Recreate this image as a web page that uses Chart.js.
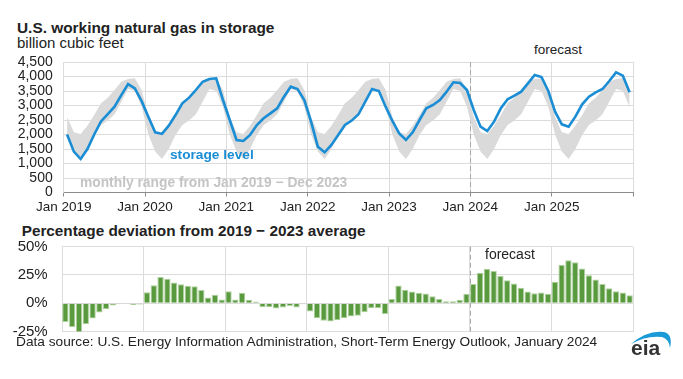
<!DOCTYPE html>
<html><head><meta charset="utf-8">
<script src="https://cdn.jsdelivr.net/npm/chart.js@4.4.1/dist/chart.umd.min.js"></script>
<style>
html,body{margin:0;padding:0;background:#fff;}
#wrap{position:relative;width:683px;height:379px;overflow:hidden;font-family:"Liberation Sans",Arial,sans-serif;color:#222;background:#fff;}
.t{position:absolute;white-space:nowrap;line-height:1;}
canvas{position:absolute;left:0;}
</style></head><body>
<div id="wrap">
<div class="t" style="left:17px;top:20px;font-size:15.4px;font-weight:bold;">U.S. working natural gas in storage</div>
<div class="t" style="left:17px;top:35px;font-size:15px;">billion cubic feet</div>
<div class="t" style="left:534px;top:43px;font-size:13.5px;">forecast</div>
<canvas id="c1" width="683" height="170" style="top:50px"></canvas>
<div class="t" style="left:170px;top:148px;font-size:13.7px;font-weight:bold;color:#1a8dd4;">storage level</div>
<div class="t" style="left:80px;top:176px;font-size:13.8px;font-weight:bold;color:#c4c4c4;">monthly range from Jan 2019 − Dec 2023</div>
<div class="t" style="left:21.7px;top:222.5px;font-size:15.3px;font-weight:bold;">Percentage deviation from 2019 − 2023 average</div>
<canvas id="c2" width="683" height="100" style="top:236px"></canvas>
<div class="t" style="left:485px;top:247.4px;font-size:14px;">forecast</div>
<div class="t" style="left:16px;top:335.4px;font-size:13.7px;">Data source: U.S. Energy Information Administration, Short-Term Energy Outlook, January 2024</div>
<svg style="position:absolute;left:625px;top:325px" width="55" height="40">
  <path d="M6,19 Q22,5 39,7 Q48,9 45,23 Q44,14 37,12 Q22,10 6,19 Z" fill="#1a9ad6"/>
</svg>
<div class="t" style="left:631px;top:337px;font-size:21px;font-weight:bold;color:#333;">eia</div>
</div>
<script>
// ---- data (end-of-month working gas, billion cubic feet), Jan 2019 - Dec 2025 ----
const storage2019 = [2000,1410,1155,1500,2000,2450,2700,2960,3360,3740,3590,3150];
const storage2020 = [2600,2075,2020,2305,2670,3075,3270,3535,3820,3915,3937,3190];
const storage2021 = [2500,1811,1777,1984,2328,2558,2730,2900,3305,3650,3570,3190];
const storage2022 = [2443,1581,1386,1639,1984,2328,2480,2696,3132,3569,3500,2960];
const storage2023 = [2466,2040,1811,2075,2500,2903,3018,3190,3477,3799,3776,3535];
const storage2024 = [2845,2271,2121,2443,2903,3213,3339,3477,3764,4052,3983,3500];
const storage2025 = [2788,2351,2271,2615,3040,3305,3454,3569,3845,4143,4029,3454];
// monthly range Jan 2019 - Dec 2023 (Jan..Dec)
const rangeLow  = [2000,1410,1155,1500,1984,2328,2480,2696,3132,3569,3500,2960];
const rangeHigh = [2600,2075,2020,2305,2670,3075,3270,3535,3820,3915,3937,3535];
// percentage deviation from 2019-2023 average
const dev2019 = [-16.5,-21,-26,-18.6,-13.6,-8.3,-5.3,-2,-0.9,-0.3,-1.5,-1.2];
const dev2020 = [9.7,16,23.3,21.6,18.3,16.8,15.4,15,11.8,5,7.4,3.2];
const dev2021 = [10.6,3.2,9.2,3,1.5,-3.5,-3.5,-4.7,-3.8,-2.4,-3.8,-0.9];
const dev2022 = [-7.4,-13.3,-15.4,-16.2,-15,-13.3,-11.8,-11,-8,-4.4,-4.4,-9.5];
const dev2023 = [3.8,15.7,12,10.4,9.2,8.6,6.2,3.8,1.8,1.8,3,8.3];
const dev2024 = [17,26.9,30.4,28.4,24,20.4,17.4,13.6,10.4,8.9,9.5,8.3];
const dev2025 = [18.9,34,38,36.3,30.7,24.8,21,17.1,13.3,10.6,9.5,7.1];
// tick labels
const yearTickLabels = ['Jan 2019','Jan 2020','Jan 2021','Jan 2022','Jan 2023','Jan 2024','Jan 2025',''];
const storageTickLabels = ['0','500','1,000','1,500','2,000','2,500','3,000','3,500','4,000','4,500'];
const pctTickLabels = ['-25%','0%','25%','50%'];
const forecastStartMonth = 60; // Jan 2024

const storage = [].concat(storage2019,storage2020,storage2021,storage2022,storage2023,storage2024,storage2025);
const deviation = [].concat(dev2019,dev2020,dev2021,dev2022,dev2023,dev2024,dev2025);
const storagePts = storage.map((v,i)=>({x:i+0.5,y:v}));
const lowPts = storage.map((v,i)=>({x:i+0.5,y:rangeLow[i%12]}));
const highPts = storage.map((v,i)=>({x:i+0.5,y:rangeHigh[i%12]}));
const devPts = deviation.map((v,i)=>({x:i+0.5,y:v}));

const FONT = '"Liberation Sans", Arial, sans-serif';
const GRID = '#dcdcdc';

const dashPlugin = {
  id:'dash',
  beforeDatasetsDraw(chart){
    const {ctx, chartArea:a, scales:{x}} = chart;
    const px = Math.round(x.getPixelForValue(forecastStartMonth)) + 0.5;
    ctx.save();
    ctx.strokeStyle = '#a8a8a8'; ctx.lineWidth = 1; ctx.setLineDash([5,3]);
    ctx.beginPath(); ctx.moveTo(px, a.top); ctx.lineTo(px, a.bottom); ctx.stroke();
    ctx.restore();
  }
};
const yearTicks = (s)=>{ s.ticks = yearTickLabels.map((_,i)=>({value:i*12})); };
const noPad = (s)=>{ s.paddingTop=0; s.paddingBottom=0; s.paddingLeft=0; s.paddingRight=0; };

new Chart(document.getElementById('c1'), {
  type:'line',
  data:{datasets:[
    {data:storagePts, borderColor:'#1a8dd4', borderWidth:2.6, pointRadius:0, tension:0, fill:false},
    {data:highPts, borderColor:'transparent', borderWidth:0, pointRadius:0, tension:0, backgroundColor:'#dadada', fill:'+1'},
    {data:lowPts, borderColor:'transparent', borderWidth:0, pointRadius:0, tension:0, fill:false}
  ]},
  options:{
    responsive:false, animation:false, events:[],
    layout:{padding:{top:12,right:50,left:0,bottom:0}},
    plugins:{legend:{display:false}, tooltip:{enabled:false}},
    scales:{
      x:{type:'linear', min:0, max:84, offset:false, afterBuildTicks:yearTicks,
         ticks:{callback:(v)=>yearTickLabels[Math.round(v/12)], font:{family:FONT,size:13.5}, color:'#222', padding:3, maxRotation:0, autoSkip:false},
         grid:{color:GRID, tickLength:4, tickColor:'#8c8c8c'},
         border:{color:'#8c8c8c'},
         afterFit(s){s.height=27.5; noPad(s);}},
      y:{min:0, max:4500,
         ticks:{stepSize:500, autoSkip:false, callback:(v)=>storageTickLabels[Math.round(v/500)], font:{family:FONT,size:14}, color:'#222', padding:11},
         grid:{color:GRID, drawTicks:false},
         border:{color:GRID},
         afterFit(s){s.width=63.7; noPad(s);}}
    }
  },
  plugins:[dashPlugin]
});

new Chart(document.getElementById('c2'), {
  type:'bar',
  data:{datasets:[
    {data:devPts, backgroundColor:'#589a3d', borderColor:'#aed19f', borderWidth:1, barPercentage:0.93, categoryPercentage:1}
  ]},
  options:{
    responsive:false, animation:false, events:[],
    layout:{padding:{top:10.7,right:50,left:0,bottom:4.5}},
    plugins:{legend:{display:false}, tooltip:{enabled:false}},
    scales:{
      x:{type:'linear', min:0, max:84, offset:false, afterBuildTicks:yearTicks,
         ticks:{display:false},
         grid:{color:GRID, drawTicks:false, offset:false},
         border:{color:GRID},
         afterFit(s){s.height=0; noPad(s);}},
      y:{min:-25, max:50,
         ticks:{stepSize:25, autoSkip:false, callback:(v)=>pctTickLabels[Math.round((v+25)/25)], font:{family:FONT,size:15}, color:'#222', padding:14.3},
         grid:{color:GRID, drawTicks:false},
         border:{color:GRID},
         afterFit(s){s.width=62; noPad(s);}}
    }
  },
  plugins:[dashPlugin]
});
</script>
</body></html>
